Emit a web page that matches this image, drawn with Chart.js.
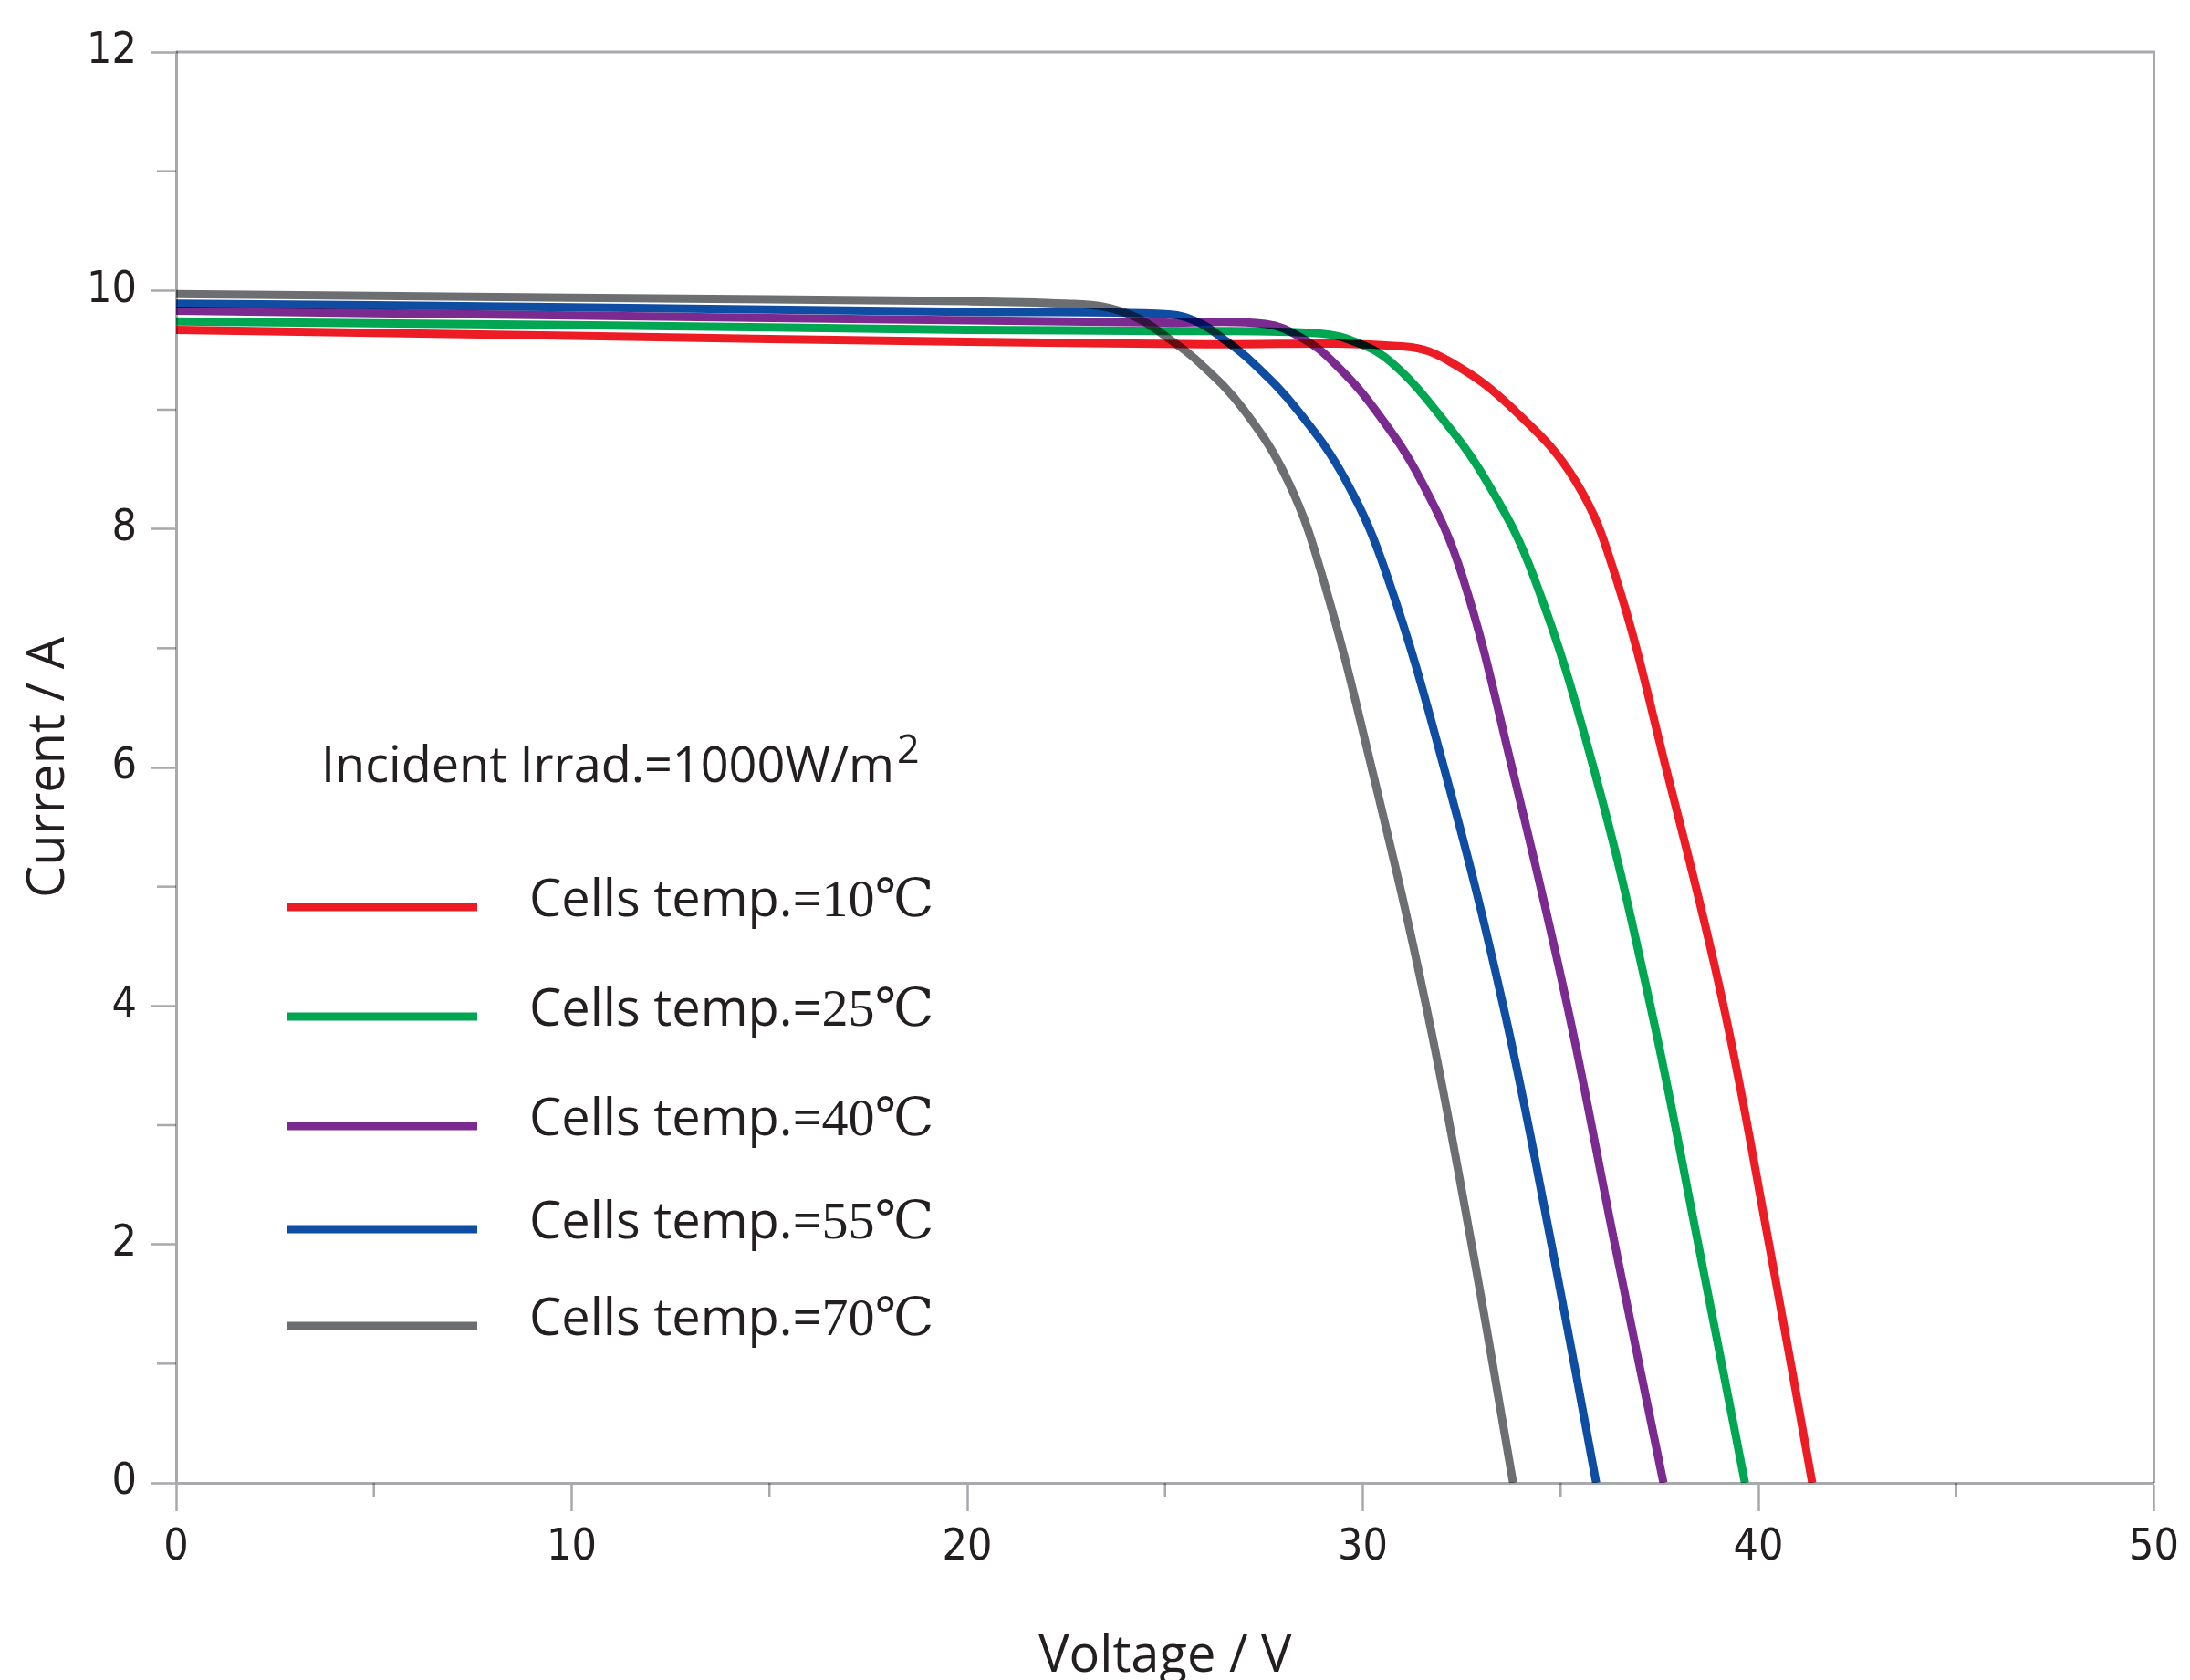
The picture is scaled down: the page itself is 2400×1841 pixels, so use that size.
<!DOCTYPE html>
<html>
<head>
<meta charset="utf-8">
<script src="https://cdn.jsdelivr.net/npm/chart.js@4.4.1/dist/chart.umd.min.js"></script>
<style>
html,body{margin:0;padding:0;background:#ffffff;}
#wrap{width:2400px;height:1841px;position:relative;}
</style>
</head>
<body>
<div id="wrap"><canvas id="c"></canvas></div>
<script>
// ---------------- data ----------------
const seriesLabels = ['Cells temp.=10℃', 'Cells temp.=25℃', 'Cells temp.=40℃', 'Cells temp.=55℃', 'Cells temp.=70℃'];

const v10 = [0, 10, 20, 26, 31.06, 32.22, 33.82, 35.38, 36.39, 37.66, 39.12, 40.27, 41.36];
const i10 = [9.67, 9.62, 9.57, 9.55, 9.53, 9.4, 9.0, 8.4, 7.6, 6, 4, 2, 0];

const v25 = [0, 10, 20, 25, 28.92, 29.95, 30.71, 31.83, 33.13, 34.32, 35.83, 37.27, 38.48, 39.66];
const i25 = [9.74, 9.71, 9.67, 9.66, 9.64, 9.55, 9.4, 9.0, 8.4, 7.6, 6, 4, 2, 0];

const v40 = [0, 10, 20, 25, 27.54, 28.47, 29.25, 30.31, 31.48, 32.52, 33.77, 35.17, 36.37, 37.6];
const i40 = [9.83, 9.79, 9.75, 9.73, 9.72, 9.6, 9.4, 9.0, 8.4, 7.6, 6, 4, 2, 0];

const v55 = [0, 10, 20, 25.1, 25.86, 26.45, 27.2, 28.34, 29.58, 30.62, 32.05, 33.55, 34.77, 35.9];
const i55 = [9.89, 9.86, 9.82, 9.80, 9.73, 9.6, 9.4, 9.0, 8.4, 7.6, 6, 4, 2, 0];

const v70 = [0, 10, 20, 22.5, 23.5, 24.3, 25.08, 25.85, 26.99, 28.11, 28.98, 30.22, 31.6, 32.75, 33.8];
const i70 = [9.97, 9.94, 9.91, 9.89, 9.86, 9.77, 9.6, 9.4, 9.0, 8.4, 7.6, 6, 4, 2, 0];

const xTickValues = [0, 10, 20, 30, 40, 50];
const yTickValues = [0, 2, 4, 6, 8, 10, 12];
const xMinorValues = [5, 15, 25, 35, 45];
const yMinorValues = [1, 3, 5, 7, 9, 11];

const irradText = 'Incident Irrad.=1000W/m';
const irradSup = '2';
const xTitle = 'Voltage / V';
const yTitle = 'Current / A';

// ---------------- styles ----------------
const seriesColors = ['#ED1C24', '#00A651', '#7B2A90', '#0F4DA2', '#6D6E71'];
const axisGray = '#a7a9ac';
const textColor = '#231f20';
const tickFont = '"Liberation Sans Narrow", "DejaVu Sans Condensed", "Roboto", sans-serif';
const sansFont = '"Open Sans", "Noto Sans", sans-serif';
const serifFont = '"Liberation Serif", "DejaVu Serif", serif';

const volts = [v10, v25, v40, v55, v70];
const amps = [i10, i25, i40, i55, i70];

const datasets = seriesLabels.map((label, k) => ({
  label,
  data: volts[k].map((v, j) => ({x: v, y: amps[k][j]})),
  borderColor: seriesColors[k],
  backgroundColor: seriesColors[k],
  borderWidth: 9,
  pointRadius: 0,
  fill: false,
  tension: 0.4,
  borderCapStyle: 'butt',
  borderJoinStyle: 'round'
}));

// multiply blending so overlaps darken as in the reference
const blendPlugin = {
  id: 'blend',
  beforeDatasetsDraw(chart) { chart.ctx.save(); chart.ctx.globalCompositeOperation = 'multiply'; },
  afterDatasetsDraw(chart) { chart.ctx.restore(); }
};

// minor ticks and top/right frame
const framePlugin = {
  id: 'frame',
  beforeDatasetsDraw(chart) {
    const {ctx, chartArea: a, scales: {x, y}} = chart;
    ctx.save();
    ctx.strokeStyle = axisGray;
    ctx.lineWidth = 2.5;
    yMinorValues.forEach(v => {
      const py = y.getPixelForValue(v);
      ctx.beginPath(); ctx.moveTo(a.left - 21, py); ctx.lineTo(a.left, py); ctx.stroke();
    });
    xMinorValues.forEach(v => {
      const px = x.getPixelForValue(v);
      ctx.beginPath(); ctx.moveTo(px, a.bottom); ctx.lineTo(px, a.bottom + 16); ctx.stroke();
    });
    ctx.lineWidth = 3;
    ctx.beginPath();
    ctx.moveTo(a.left, a.top); ctx.lineTo(a.right, a.top); ctx.lineTo(a.right, a.bottom);
    ctx.stroke();
    ctx.restore();
  }
};

// legend drawn inside plot area
const legendLayout = {subX: 352, subY: 857, subSize: 54, lineX0: 315, lineX1: 523, textX: 580, rows: [994, 1114, 1234, 1347, 1453], textDy: 10, textSize: 56};
const insideLegend = {
  id: 'insideLegend',
  afterDraw(chart) {
    const ctx = chart.ctx;
    const L = legendLayout;
    ctx.save();
    ctx.fillStyle = textColor;
    ctx.textBaseline = 'alphabetic';
    ctx.textAlign = 'left';
    ctx.font = L.subSize + 'px ' + sansFont;
    ctx.fillText(irradText, L.subX, L.subY);
    const w = ctx.measureText(irradText).width;
    ctx.font = Math.round(L.subSize * 0.8) + 'px ' + sansFont;
    ctx.fillText(irradSup, L.subX + w + 3, L.subY - L.subSize * 0.38);
    chart.data.datasets.forEach((ds, k) => {
      const y = L.rows[k];
      ctx.strokeStyle = ds.borderColor;
      ctx.lineWidth = 9;
      ctx.lineCap = 'butt';
      ctx.beginPath(); ctx.moveTo(L.lineX0, y); ctx.lineTo(L.lineX1, y); ctx.stroke();
      const idx = ds.label.indexOf('=') + 1;
      const pre = ds.label.slice(0, idx);
      const suf = ds.label.slice(idx);
      ctx.fillStyle = textColor;
      ctx.font = L.textSize + 'px ' + sansFont;
      ctx.fillText(pre, L.textX, y + L.textDy);
      const pw = ctx.measureText(pre).width;
      ctx.font = (L.textSize + 2) + 'px ' + serifFont;
      ctx.fillText(suf, L.textX + pw, y + L.textDy);
    });
    ctx.restore();
  }
};

new Chart(document.getElementById('c'), {
  type: 'line',
  data: {datasets},
  plugins: [blendPlugin, framePlugin, insideLegend],
  options: {
    responsive: true,
    maintainAspectRatio: false,
    animation: false,
    layout: {padding: {left: 0, top: 57, right: 34, bottom: 0}},
    plugins: {legend: {display: false}, tooltip: {enabled: false}},
    scales: {
      x: {
        type: 'linear',
        min: 0, max: 50,
        afterFit(s) { s.height = 216; },
        afterBuildTicks(s) { s.ticks = xTickValues.map(v => ({value: v})); },
        grid: {drawOnChartArea: false, drawTicks: true, tickLength: 31, tickColor: axisGray, tickWidth: 2.5},
        border: {display: true, color: axisGray, width: 3},
        ticks: {padding: 12, color: textColor, font: {family: tickFont, size: 48}},
        title: {display: true, text: xTitle, color: textColor, font: {family: sansFont, size: 56, lineHeight: 0.9}, padding: {top: 0, bottom: 0}}
      },
      y: {
        type: 'linear',
        min: 0, max: 12,
        afterFit(s) { s.width = 193; },
        afterBuildTicks(s) { s.ticks = yTickValues.map(v => ({value: v})); },
        grid: {drawOnChartArea: false, drawTicks: true, tickLength: 27, tickColor: axisGray, tickWidth: 2.5},
        border: {display: true, color: axisGray, width: 3},
        ticks: {padding: 16, color: textColor, font: {family: tickFont, size: 48}},
        title: {display: true, text: yTitle, color: textColor, font: {family: sansFont, size: 56}, padding: {top: 20, bottom: 0}}
      }
    }
  }
});
</script>
</body>
</html>
